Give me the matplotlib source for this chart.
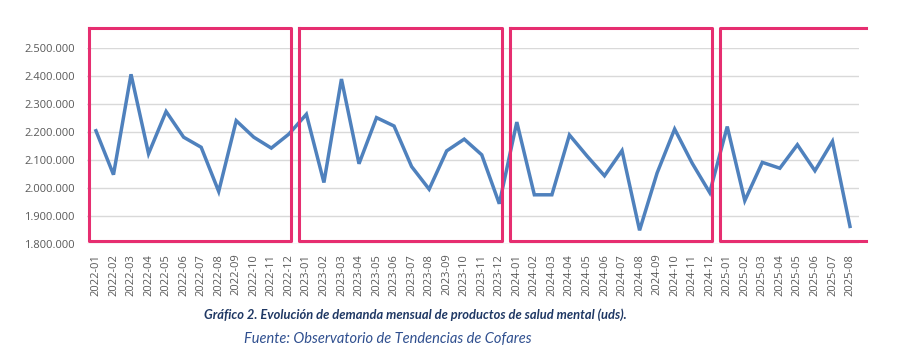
import matplotlib.pyplot as plt
import numpy as np
from matplotlib.ticker import FuncFormatter

# Datos: demanda mensual (unidades)
meses = [f"{a}-{m:02d}" for a in (2022, 2023, 2024) for m in range(1, 13)] + \
        [f"2025-{m:02d}" for m in range(1, 9)]
demanda = [
    2205000, 2048000, 2407000, 2123000, 2274000, 2182000, 2146000, 1988000,
    2241000, 2182000, 2143000, 2193000,
    2264000, 2020000, 2390000, 2087000, 2252000, 2222000, 2077000, 1996000,
    2133000, 2175000, 2119000, 1944000,
    2236000, 1976000, 1976000, 2190000, 2115000, 2044000, 2134000, 1849000,
    2054000, 2211000, 2089000, 1984000,
    2220000, 1955000, 2092000, 2071000, 2155000, 2062000, 2167000, 1863000,
]
y_ticks = [1800000, 1900000, 2000000, 2100000, 2200000, 2300000, 2400000, 2500000]

titulo = "Gráfico 2. Evolución de demanda mensual de productos de salud mental (uds)."
fuente = "Fuente: Observatorio de Tendencias de Cofares"

plt.rcParams["font.family"] = ["Open Sans", "DejaVu Sans"]

fig = plt.figure(figsize=(9.1, 3.63), dpi=100)
ax = fig.add_axes([0.0958, 0.3278, 0.8479, 0.5392])

x = np.arange(len(meses))
ax.plot(x, demanda, color="#4F81BD", lw=2.5, solid_joinstyle="miter", zorder=3)

ax.set_xlim(-0.5, len(meses) - 0.5)
ax.set_ylim(y_ticks[0], y_ticks[-1])
ax.set_yticks(y_ticks)
ax.yaxis.set_major_formatter(FuncFormatter(lambda v, p: f"{v:,.0f}".replace(",", ".")))
ax.set_xticks(x)
ax.set_xticklabels(meses, rotation=90)
ax.tick_params(axis="both", length=0, labelsize=8, labelcolor="#595959")
ax.tick_params(axis="x", pad=7)
ax.tick_params(axis="y", pad=9)
ax.grid(axis="y", color="#D9D9D9", lw=1)
ax.set_axisbelow(True)
for s in ax.spines.values():
    s.set_visible(False)

# Recuadros por año
rosa = "#E62E70"
anios = sorted(set(m[:4] for m in meses))
y0, y1 = 1810000, 2572000
for i, a in enumerate(anios):
    idx = [k for k, m in enumerate(meses) if m.startswith(a)]
    left = idx[0] - 0.4
    if i == len(anios) - 1:
        right = len(meses) - 0.1
        ax.plot([right, left, left, right], [y1, y1, y0, y0], color=rosa, lw=2.2,
                clip_on=False, zorder=4)
    else:
        right = idx[-1] + 0.15
        ax.plot([left, right, right, left, left], [y1, y1, y0, y0, y1], color=rosa,
                lw=2.2, clip_on=False, zorder=4)

fig.text(0.457, 0.132, titulo, ha="center", va="center", fontsize=9.3,
         fontweight="bold", style="italic", color="#1F3864", family=["Lato", "DejaVu Sans"])
fig.text(0.426, 0.066, fuente, ha="center", va="center", fontsize=10.5,
         style="italic", color="#2F4F8F", family=["Lato", "DejaVu Sans"])

fig.savefig("out.png", dpi=100)
